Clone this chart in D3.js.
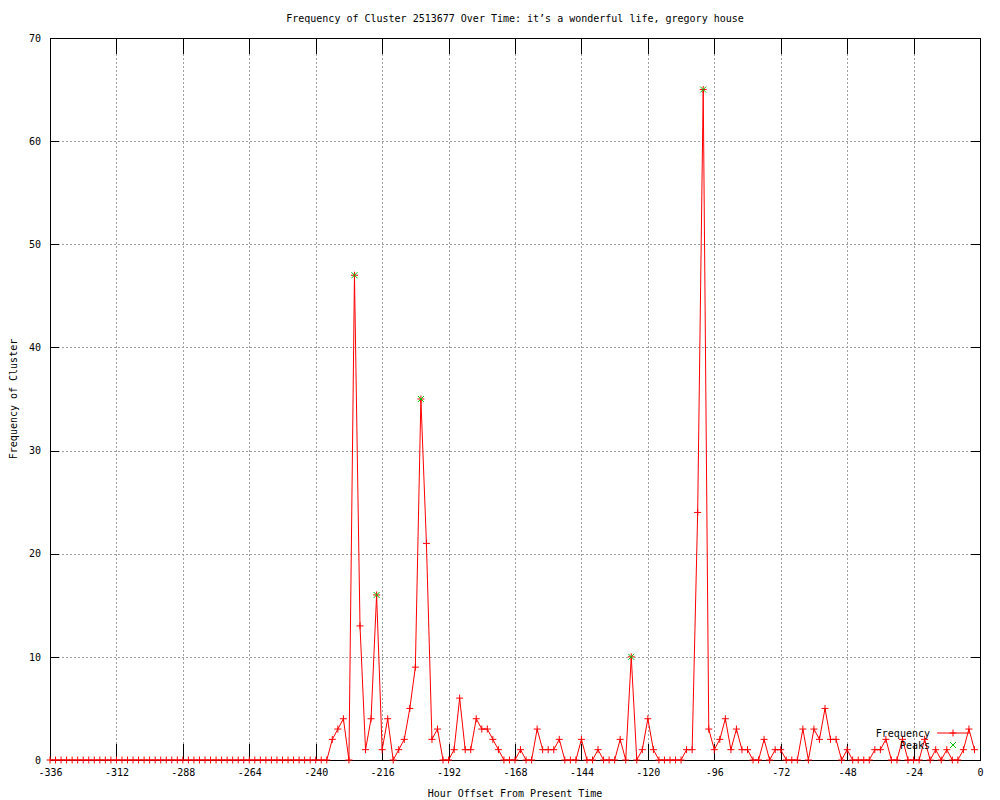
<!DOCTYPE html>
<html>
<head>
<meta charset="utf-8">
<script src="https://cdn.jsdelivr.net/npm/d3@7"></script>
<style>
  body { margin: 0; background: #fff; }
  text { font-family: "DejaVu Sans Mono", monospace; font-size: 10px; fill: #000; }
</style>
</head>
<body>
<svg></svg>
<script>
// hour offsets, one sample every 2 hours
const hours = d3.range(-336, 0, 2)

// frequency for each hour offset
const counts = [
    0, 0, 0, 0, 0, 0, 0, 0, 0, 0, 0, 0, 0, 0, 0, 0, 0, 0, 0, 0,
    0, 0, 0, 0, 0, 0, 0, 0, 0, 0, 0, 0, 0, 0, 0, 0, 0, 0, 0, 0,
    0, 0, 0, 0, 0, 0, 0, 0, 0, 0, 0,
    2, 3, 4, 0, 47, 13, 1, 4, 16, 1, 4, 0, 1, 2, 5, 9, 35, 21, 2, 3,
    0, 0, 1, 6, 1, 1, 4, 3, 3, 2, 1, 0, 0, 0, 1, 0, 0, 3, 1, 1,
    1, 2, 0, 0, 0, 2, 0, 0, 1, 0, 0, 0, 2, 0, 10, 0, 1, 4, 1, 0,
    0, 0, 0, 0, 1, 1, 24, 65, 3, 1, 2, 4, 1, 3, 1, 1, 0, 0, 2, 0,
    1, 1, 0, 0, 0, 3, 0, 3, 2, 5, 2, 2, 0, 1, 0, 0, 0, 0, 1, 1,
    2, 0, 0, 2, 0, 0, 0, 2, 0, 1, 0, 1, 0, 0, 1, 3, 1
]

// detected peaks
const peakHours = [-226, -218, -202, -126, -100]

const xTicks = d3.range(-336, 1, 24)
const yTicks = d3.range(0, 71, 10)

const titleText = "Frequency of Cluster 2513677 Over Time: it\u2019s a wonderful life, gregory house"
const xLabel = "Hour Offset From Present Time"
const yLabel = "Frequency of Cluster"

let width = 1000
let height = 800
let plotLeft = 50
let plotRight = 980
let plotTop = 38
let plotBottom = 760

let values = hours.map((h, i) => ({ hour: h, count: counts[i] }))
let peaks = values.filter(d => peakHours.includes(d.hour))

let svg = d3.select("svg")
    .attr("width", width)
    .attr("height", height)

let xScale = d3.scaleLinear().domain([-336, 0]).range([plotLeft, plotRight])
let yScale = d3.scaleLinear().domain([0, 70]).range([plotBottom, plotTop])

const plusPath = "M-3.5,0H3.5M0,-3.5V3.5"
const crossPath = "M-3,-3L3,3M-3,3L3,-3"

// grid
svg.append("g")
    .selectAll("line")
    .data(xTicks.slice(1, -1))
    .enter()
    .append("line")
    .attr("x1", d => Math.round(xScale(d)) + 0.5)
    .attr("x2", d => Math.round(xScale(d)) + 0.5)
    .attr("y1", plotTop)
    .attr("y2", plotBottom)
    .attr("stroke", "#a0a0a0")
    .attr("stroke-dasharray", "2,2")

svg.append("g")
    .selectAll("line")
    .data(yTicks.slice(1, -1))
    .enter()
    .append("line")
    .attr("x1", plotLeft)
    .attr("x2", plotRight)
    .attr("y1", d => Math.round(yScale(d)) + 0.5)
    .attr("y2", d => Math.round(yScale(d)) + 0.5)
    .attr("stroke", "#a0a0a0")
    .attr("stroke-dasharray", "2,2")

// axes, ticks pointing inward
const fmt = d => String(d)

const xAxis = d3.axisBottom(xScale).tickValues(xTicks).tickFormat(fmt).tickSize(-16).tickSizeOuter(0).tickPadding(9)
const xAxisTop = d3.axisTop(xScale).tickValues(xTicks).tickFormat("").tickSize(-16).tickSizeOuter(0)
const yAxis = d3.axisLeft(yScale).tickValues(yTicks).tickFormat(fmt).tickSize(-9).tickSizeOuter(0).tickPadding(9)
const yAxisRight = d3.axisRight(yScale).tickValues(yTicks).tickFormat("").tickSize(-9).tickSizeOuter(0)

const styleAxis = g => {
    g.attr("font-family", null).attr("font-size", null)
    g.select(".domain").remove()
    g.selectAll("line").attr("stroke", "#000").attr("shape-rendering", "crispEdges")
}

svg.append("g").attr("transform", "translate(0," + plotBottom + ")").call(xAxis).call(styleAxis)
svg.append("g").attr("transform", "translate(0," + plotTop + ")").call(xAxisTop).call(styleAxis)
svg.append("g").attr("transform", "translate(" + plotLeft + ",0)").call(yAxis).call(styleAxis)
svg.append("g").attr("transform", "translate(" + plotRight + ",0)").call(yAxisRight).call(styleAxis)

svg.append("rect")
    .attr("x", plotLeft)
    .attr("y", plotTop)
    .attr("width", plotRight - plotLeft)
    .attr("height", plotBottom - plotTop)
    .attr("fill", "none")
    .attr("stroke", "#000")
    .attr("shape-rendering", "crispEdges")

// frequency line
let line = d3.line()
    .x(d => xScale(d.hour))
    .y(d => yScale(d.count))

svg.append("path")
    .datum(values)
    .attr("d", line)
    .attr("fill", "none")
    .attr("stroke", "#ff0000")
    .attr("stroke-width", 1)

svg.append("g")
    .selectAll("path")
    .data(values)
    .enter()
    .append("path")
    .attr("d", plusPath)
    .attr("transform", d => "translate(" + xScale(d.hour) + "," + yScale(d.count) + ")")
    .attr("stroke", "#ff0000")
    .attr("fill", "none")

// peaks
svg.append("g")
    .selectAll("path")
    .data(peaks)
    .enter()
    .append("path")
    .attr("d", crossPath)
    .attr("transform", d => "translate(" + xScale(d.hour) + "," + yScale(d.count) + ")")
    .attr("stroke", "#00c000")
    .attr("fill", "none")

// key
let key = svg.append("g")

key.append("text")
    .attr("x", 930)
    .attr("y", 733)
    .attr("dy", "0.35em")
    .attr("text-anchor", "end")
    .text("Frequency")

key.append("line")
    .attr("x1", 937)
    .attr("x2", 970)
    .attr("y1", 733)
    .attr("y2", 733)
    .attr("stroke", "#ff0000")

key.append("path")
    .attr("d", plusPath)
    .attr("transform", "translate(953,733)")
    .attr("stroke", "#ff0000")

key.append("text")
    .attr("x", 930)
    .attr("y", 745)
    .attr("dy", "0.35em")
    .attr("text-anchor", "end")
    .text("Peaks")

key.append("path")
    .attr("d", crossPath)
    .attr("transform", "translate(953,745)")
    .attr("stroke", "#00c000")

// labels
svg.append("text")
    .attr("x", (plotLeft + plotRight) / 2)
    .attr("y", 18)
    .attr("dy", "0.35em")
    .attr("text-anchor", "middle")
    .text(titleText)

svg.append("text")
    .attr("x", (plotLeft + plotRight) / 2)
    .attr("y", 793)
    .attr("dy", "0.35em")
    .attr("text-anchor", "middle")
    .text(xLabel)

svg.append("text")
    .attr("transform", "translate(13," + ((plotTop + plotBottom) / 2) + ") rotate(-90)")
    .attr("dy", "0.35em")
    .attr("text-anchor", "middle")
    .text(yLabel)
</script>
</body>
</html>
